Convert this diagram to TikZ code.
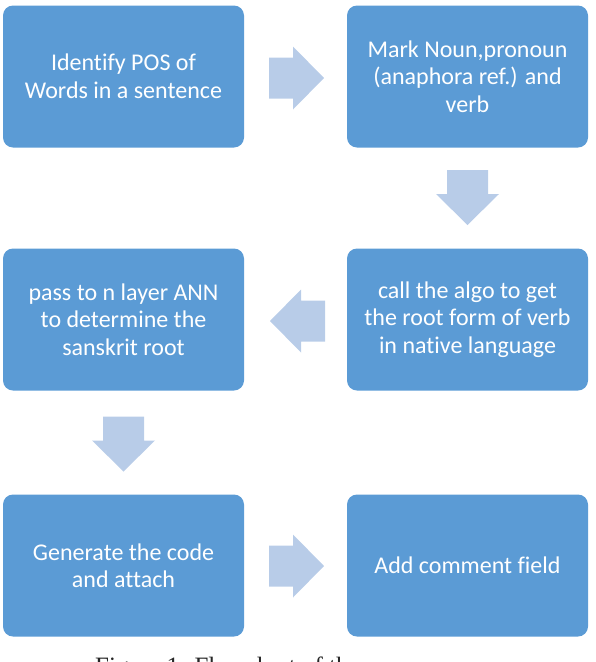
\documentclass[tikz,border=0pt]{standalone}
\usepackage{fontspec}
\setmainfont{Carlito}[RawFeature={-liga}]
\newfontfamily\capfont{Liberation Serif}
\definecolor{boxblue}{HTML}{5B9BD5}
\definecolor{arrowblue}{HTML}{B8CCE8}
\begin{document}
\begin{tikzpicture}[x=1pt,y=-1pt,
  stepbox/.style={fill=boxblue, rounded corners=10pt, minimum width=241pt, minimum height=142pt,
    text=white, align=center, font=\fontsize{24}{27.5}\selectfont, inner sep=0pt},
  barrow/.pic={\fill[arrowblue] (-27.5,-20.5) -- (-3.5,-20.5) -- (-3.5,-31.5) -- (27.5,0) -- (-3.5,31.5) -- (-3.5,20.5) -- (-27.5,20.5) -- cycle;}]
\useasboundingbox (0,0) rectangle (596,662);
\node[stepbox] (b1) at (123.5,76.5) {Identify POS of\\Words in a sentence};
\node[stepbox] (b2) at (467.5,76.5) {Mark Noun,pronoun\\(anaphora ref.) and\\verb};
\node[stepbox] (b3) at (123.5,319.5) {pass to n layer ANN\\to determine the\\sanskrit root};
\node[stepbox] (b4) at (467.5,319.5) {call the algo to get\\the root form of verb\\in native language};
\node[stepbox] (b5) at (123.5,565.5) {Generate the code\\and attach};
\node[stepbox] (b6) at (467.5,565.5) {Add comment field};
\pic at (296.5,78) {barrow};
\pic[rotate=-90] at (467.5,197.5) {barrow};
\pic[rotate=180] at (297.5,321) {barrow};
\pic[rotate=-90] at (123.5,444) {barrow};
\pic at (296.5,566) {barrow};
\begin{scope}
\clip (0,0) rectangle (596,662);
\node[anchor=base west, inner sep=0pt, font=\capfont\fontsize{25}{30}\selectfont, text=black!85] (cap) at (95,674) {Figure 1: Flowchart of the};
\end{scope}
\end{tikzpicture}
\end{document}
